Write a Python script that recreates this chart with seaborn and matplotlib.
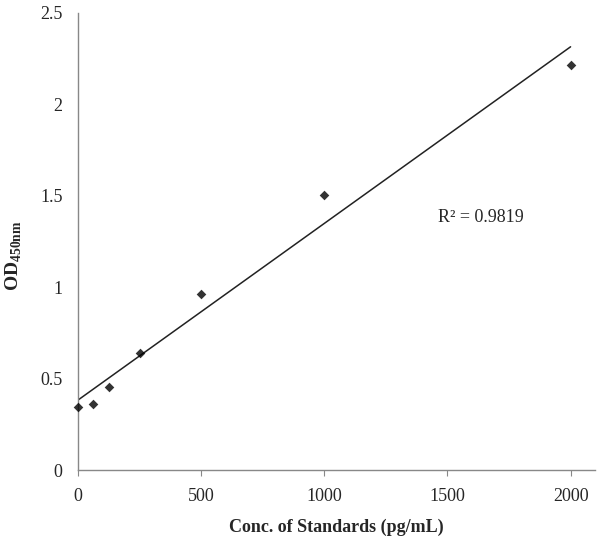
import numpy as np
import pandas as pd
import seaborn as sb
from matplotlib import pyplot as plt

# standard curve values
conc = [0, 62.5, 125, 250, 500, 1000, 2000]
od450 = [0.346, 0.360, 0.452, 0.641, 0.963, 1.503, 2.217]
r2_label = "R² = 0.9819"

df = pd.DataFrame({'conc': conc, 'od': od450})

sb.set_style('white')
plt.rcParams['font.family'] = ['Liberation Serif', 'DejaVu Serif']
plt.rcParams['mathtext.fontset'] = 'custom'
plt.rcParams['mathtext.rm'] = 'Liberation Serif'
plt.rcParams['mathtext.bf'] = 'Liberation Serif:bold'

fig = plt.figure(figsize=(6, 5.39), dpi=100)
ax = fig.add_axes([0.13, 0.128, 0.862, 0.848])

sb.regplot(data=df, x='conc', y='od', ci=None, ax=ax,
           marker='D',
           scatter_kws=dict(color='black', s=24, linewidths=0, zorder=3, clip_on=False),
           line_kws=dict(color='#222222', lw=1.1))

ax.set_xlim(0, 2100)
ax.set_ylim(0, 2.5)
ax.set_xticks([0, 500, 1000, 1500, 2000])
ax.set_yticks([0, 0.5, 1, 1.5, 2, 2.5])
ax.set_yticklabels(['0', '0.5', '1', '1.5', '2', '2.5'])
ax.tick_params(axis='x', labelsize=13, length=4, width=0.8, color='#888888', pad=9, direction='out', bottom=True)
ax.tick_params(axis='y', labelsize=13, length=0, pad=11)

ax.text(1460, 1.38, r2_label, fontsize=13, va='center', ha='left')

ax.set_xlabel('Conc. of Standards (pg/mL)', fontsize=13, fontweight='bold', labelpad=10)
ax.set_ylabel(r'OD$_{\mathbf{450nm}}$', fontsize=14, fontweight='bold', labelpad=10)
ax.yaxis.set_label_coords(-0.105, 0.47)

sb.despine(ax=ax)
for side in ['left', 'bottom']:
    ax.spines[side].set_color('#888888')
    ax.spines[side].set_linewidth(1.0)

plt.savefig('out.png', dpi=100)
